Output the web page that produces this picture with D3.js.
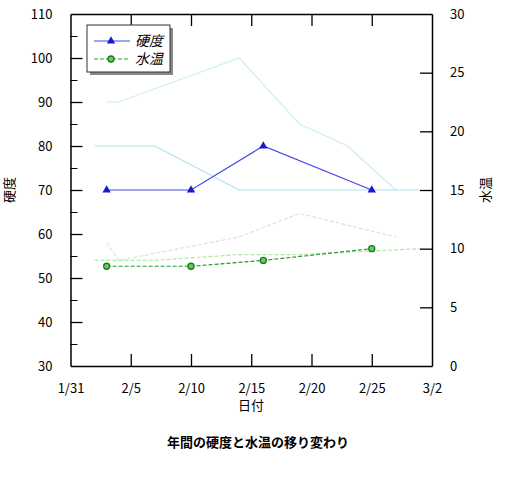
<!DOCTYPE html>
<html><head><meta charset="utf-8">
<script src="https://cdn.jsdelivr.net/npm/d3@7"></script>
<style>body{margin:0;background:#fff}text{font-family:"Noto Sans CJK JP",sans-serif}</style>
</head><body><svg id="c" width="512" height="477"></svg>
<script>
const hardDates = ['2023-02-03','2023-02-10','2023-02-16','2023-02-25'];
const hardValues = [70, 70, 80, 70];
const tempDates = ['2023-02-03','2023-02-10','2023-02-16','2023-02-25'];
const tempValues = [8.5, 8.5, 9, 10];
const ghostHardA = [['2023-02-02',80],['2023-02-07',80],['2023-02-14',70],['2023-03-01',70]];
const ghostHardB = [['2023-02-03',90],['2023-02-04',90],['2023-02-14',100],['2023-02-19',85],['2023-02-23',80],['2023-02-27',70]];
const ghostTempA = [['2023-02-02',9],['2023-02-07',9],['2023-02-14',9.5],['2023-02-19',9.5],['2023-03-01',10]];
const ghostTempB = [['2023-02-03',10.5],['2023-02-04',9],['2023-02-14',11],['2023-02-19',13],['2023-02-27',11]];
const xTicks = ['2023-01-31','2023-02-05','2023-02-10','2023-02-15','2023-02-20','2023-02-25','2023-03-02'];

const p = d3.timeParse('%Y-%m-%d');
const svg = d3.select('#c');
const L = 70.5, R = 432, T = 14, B = 366;
const x = d3.scaleTime().domain([p('2023-01-31'), p('2023-03-02')]).range([L, R]);
const yL = d3.scaleLinear().domain([30, 110]).range([B, T]);
const yR = d3.scaleLinear().domain([0, 30]).range([B, T]);
const fmt = d3.timeFormat('%-m/%-d');

// ghost lines
const gl = (data, y, color, dash) => svg.append('path')
	.attr('d', d3.line().x(d => x(p(d[0]))).y(d => y(d[1]))(data))
	.attr('fill', 'none').attr('stroke', color).attr('stroke-width', 1.2)
	.attr('stroke-dasharray', dash);
gl(ghostHardB, yL, '#cdeef2', null);
gl(ghostHardA, yL, '#a9e3ee', null);
gl(ghostTempB, yR, '#c8f0c4', '4,2');
gl(ghostTempA, yR, '#b0e8a8', '4,2');

// axes
const axBottom = svg.append('g').attr('transform', `translate(0,${B})`)
	.call(d3.axisBottom(x).tickValues(xTicks.map(p)).tickFormat(fmt).tickSizeInner(-12).tickSizeOuter(0).tickPadding(18));
const axTop = svg.append('g').attr('transform', `translate(0,${T})`)
	.call(d3.axisTop(x).tickValues(xTicks.map(p)).tickFormat('').tickSizeInner(-12).tickSizeOuter(0));
const axLeft = svg.append('g').attr('transform', `translate(${L},0)`)
	.call(d3.axisLeft(yL).tickValues(d3.range(30, 111, 10)).tickSizeInner(-12).tickSizeOuter(0).tickPadding(18));
svg.append('g').attr('transform', `translate(${L},0)`)
	.call(d3.axisLeft(yL).tickValues(d3.range(35, 110, 10)).tickFormat('').tickSizeInner(-7).tickSizeOuter(0))
	.select('.domain').remove();
const axRight = svg.append('g').attr('transform', `translate(${R},0)`)
	.call(d3.axisRight(yR).tickValues(d3.range(0, 31, 5)).tickSizeInner(-12).tickSizeOuter(0).tickPadding(18));
[axBottom, axTop, axLeft, axRight].forEach(g => {
	g.selectAll('text').attr('font-size', 13).attr('fill', '#000');
	g.select('.domain').attr('stroke-width', 1.5);
	g.selectAll('.tick line').attr('stroke-width', 1.3);
});
axBottom.selectAll('.tick line').filter((d, i) => i === 0 || i === xTicks.length - 1).remove();
axTop.selectAll('.tick line').filter((d, i) => i === 0 || i === xTicks.length - 1).remove();
axLeft.selectAll('.tick line').filter((d, i) => i === 0 || i === 8).remove();
axRight.selectAll('.tick line').filter((d, i) => i === 0 || i === 6).remove();

// main series
const hard = hardDates.map((d, i) => [p(d), hardValues[i]]);
const temp = tempDates.map((d, i) => [p(d), tempValues[i]]);
svg.append('path').attr('d', d3.line().x(d => x(d[0])).y(d => yL(d[1]))(hard))
	.attr('fill', 'none').attr('stroke', '#4444ee').attr('stroke-width', 1.2);
svg.selectAll('.tri').data(hard).enter().append('path')
	.attr('d', d3.symbol(d3.symbolTriangle, 30))
	.attr('transform', d => `translate(${x(d[0])},${yL(d[1])})`).attr('fill', '#1a1acc');
svg.append('path').attr('d', d3.line().x(d => x(d[0])).y(d => yR(d[1]))(temp))
	.attr('fill', 'none').attr('stroke', '#2a9a2a').attr('stroke-width', 1.2).attr('stroke-dasharray', '4,2');
svg.selectAll('.dot').data(temp).enter().append('circle')
	.attr('cx', d => x(d[0])).attr('cy', d => yR(d[1])).attr('r', 3)
	.attr('fill', '#6c6').attr('stroke', '#187a18').attr('stroke-width', 1.3);

// legend
const lg = svg.append('g');
lg.append('rect').attr('x', 90).attr('y', 28).attr('width', 83).attr('height', 47).attr('fill', '#888');
lg.append('rect').attr('x', 87).attr('y', 25).attr('width', 83).attr('height', 47).attr('fill', '#fff').attr('stroke', '#333');
lg.append('line').attr('x1', 94).attr('x2', 130).attr('y1', 41).attr('y2', 41).attr('stroke', '#4444ee').attr('stroke-width', 1.2);
lg.append('path').attr('d', d3.symbol(d3.symbolTriangle, 30)).attr('transform', 'translate(111,41)').attr('fill', '#1a1acc');
lg.append('line').attr('x1', 94).attr('x2', 130).attr('y1', 59).attr('y2', 59).attr('stroke', '#2a9a2a').attr('stroke-width', 1.2).attr('stroke-dasharray', '4,2');
lg.append('circle').attr('cx', 111).attr('cy', 59).attr('r', 3).attr('fill', '#6c6').attr('stroke', '#187a18').attr('stroke-width', 1.3);
lg.append('text').attr('x', 135).attr('y', 46).attr('font-size', 14).attr('font-style', 'italic').text('硬度');
lg.append('text').attr('x', 135).attr('y', 64).attr('font-size', 14).attr('font-style', 'italic').text('水温');

// labels
svg.append('text').attr('transform', 'translate(14,190) rotate(-90)').attr('text-anchor', 'middle').attr('font-size', 13).text('硬度');
svg.append('text').attr('transform', 'translate(490,190) rotate(-90)').attr('text-anchor', 'middle').attr('font-size', 13).text('水温');
svg.append('text').attr('x', 251).attr('y', 410).attr('text-anchor', 'middle').attr('font-size', 13).text('日付');
svg.append('text').attr('x', 258).attr('y', 447).attr('text-anchor', 'middle').attr('font-size', 13).attr('font-weight', 'bold').text('年間の硬度と水温の移り変わり');
</script></body></html>
